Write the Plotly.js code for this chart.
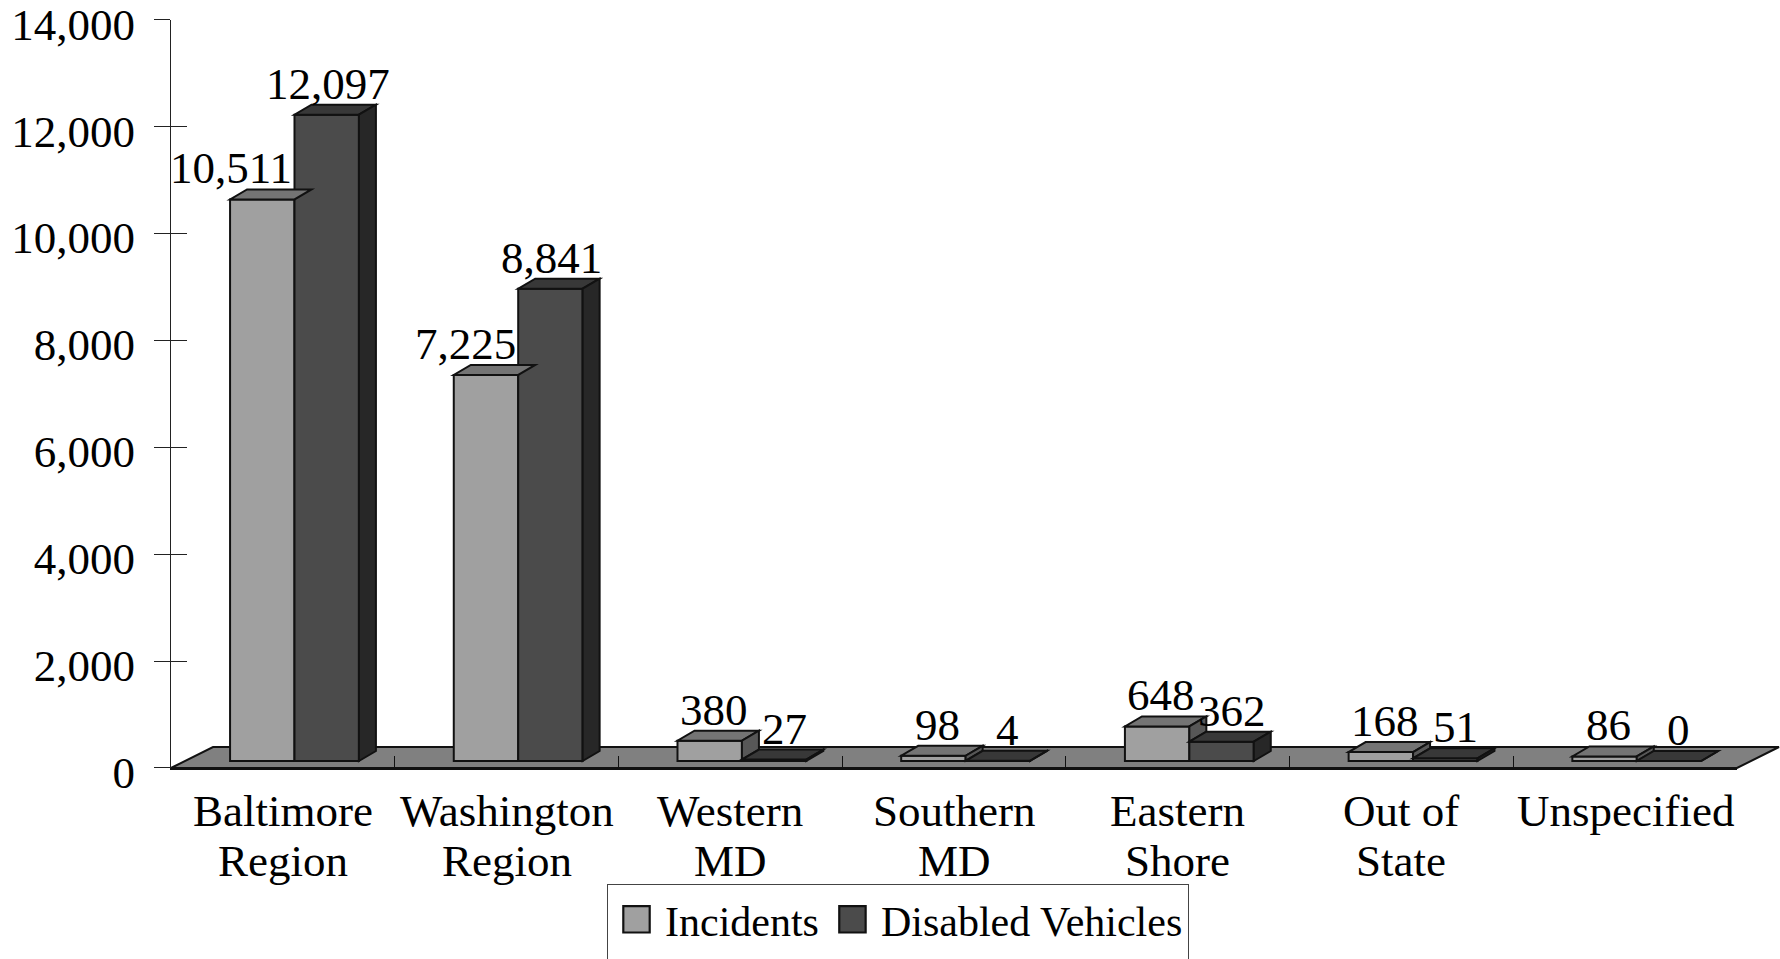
<!DOCTYPE html>
<html>
<head>
<meta charset="utf-8">
<script src="https://cdn.plot.ly/plotly-3.0.1.min.js"></script>
<style>html,body{margin:0;padding:0;background:#fff;}#chart{width:1780px;height:959px;}</style>
</head>
<body>
<div id="chart"></div>
<script>
// ---- data ----
const categories = ['Baltimore Region','Washington Region','Western MD','Southern MD','Eastern Shore','Out of State','Unspecified'];
const tickLabels = [['Baltimore','Region'],['Washington','Region'],['Western','MD'],['Southern','MD'],['Eastern','Shore'],['Out of','State'],['Unspecified']];
const seriesNames = ['Incidents','Disabled Vehicles'];
const incidents = [10511, 7225, 380, 98, 648, 168, 86];
const disabled = [12097, 8841, 27, 4, 362, 51, 0];
const yMax = 14000;
const yStep = 2000;

// ---- layout geometry ----
const W = 1780, H = 959;
const PL = 171, PR = 1737;          // plot left / right (front floor edge)
const Y0 = 768.5, YTOP = 20.4;      // pixel of 0 and yMax on the tick axis
const SHIFT = 7;                    // bars sit a little behind the front edge
const pxPerVal = (Y0 - YTOP) / yMax;
const pxPerCat = (PR - PL) / categories.length;
const y2Min = -40;
const y2Zero = Y0 - SHIFT;
const y2Bottom = y2Zero - y2Min * pxPerVal;
const plotTop = YTOP - SHIFT;
const ph = Y0 - plotTop;
const DX = 17, DY = 10;             // 3D depth of bars in px
const ddx = DX / pxPerCat, ddy = DY / pxPerVal;
const BW = 0.288, OFF_A = -0.236, OFF_B = 0.052;

const FONT = '"Liberation Serif", "Times New Roman", serif';
const FS = 45;
const colA = {front:'#a0a0a0', top:'#747474', side:'#575757'};
const colB = {front:'#4b4b4b', top:'#383838', side:'#272727'};
const edge = '#111111';

const traces = [
  {type:'bar', name:seriesNames[0], x:categories, y:incidents, yaxis:'y2',
   offset:OFF_A, width:BW, marker:{color:colA.front, line:{color:edge, width:2}}},
  {type:'bar', name:seriesNames[1], x:categories, y:disabled, yaxis:'y2',
   offset:OFF_B, width:BW, marker:{color:colB.front, line:{color:edge, width:2}}},
  // invisible helpers so that the tick axes are drawn
  {type:'scatter', x:categories, y:incidents, yaxis:'y', mode:'markers', marker:{opacity:0},
   showlegend:false, hoverinfo:'skip'},
  {type:'scatter', x:categories, y:incidents, yaxis:'y3', mode:'markers', marker:{opacity:0},
   showlegend:false, hoverinfo:'skip'}
];

function poly(pts){ return 'M' + pts.map(p => p[0] + ',' + p[1]).join('L') + 'Z'; }
const shapes = [];
const FDX = 42, FDY = 21;
function px2paperX(px){ return (px - PL) / (PR - PL); }
function px2paperY(py){ return (Y0 - py) / ph; }
shapes.push({type:'path', xref:'paper', yref:'paper', layer:'below',
  path: poly([[px2paperX(PL), px2paperY(Y0)], [px2paperX(PR), px2paperY(Y0)],
              [px2paperX(PR+FDX), px2paperY(Y0-FDY)], [px2paperX(PL+FDX), px2paperY(Y0-FDY)]]),
  fillcolor:'#808080', line:{color:edge, width:2}});

categories.forEach((c, i) => {
  const a = incidents[i], b = disabled[i];
  const axl = i + OFF_A, axr = axl + BW;
  const bxl = i + OFF_B, bxr = bxl + BW;
  shapes.push({type:'path', xref:'x', yref:'y2', fillcolor:colA.top, line:{color:edge, width:2},
    path: poly([[axl, a], [axr, a], [axr+ddx, a+ddy], [axl+ddx, a+ddy]])});
  if (a > b) {
    shapes.push({type:'path', xref:'x', yref:'y2', fillcolor:colA.side, line:{color:edge, width:2},
      path: poly([[axr, b], [axr+ddx, b+ddy], [axr+ddx, a+ddy], [axr, a]])});
  }
  shapes.push({type:'path', xref:'x', yref:'y2', fillcolor:colB.top, line:{color:edge, width:2},
    path: poly([[bxl, b], [bxr, b], [bxr+ddx, b+ddy], [bxl+ddx, b+ddy]])});
  shapes.push({type:'path', xref:'x', yref:'y2', fillcolor:colB.side, line:{color:edge, width:2},
    path: poly([[bxr, 0], [bxr+ddx, ddy], [bxr+ddx, b+ddy], [bxr, b]])});
});

const fmt = v => v.toLocaleString('en-US');
const annotations = [];
categories.forEach((c, i) => {
  const a = incidents[i], b = disabled[i];
  const la = fmt(a), lb = fmt(b);
  const estW = la.replace(',', '').length * 0.5 * FS + (la.includes(',') ? 0.25 * FS : 0);
  const crowded = b > a && estW > BW * pxPerCat;
  annotations.push({xref:'x', yref:'y2', x: crowded ? i + OFF_A + BW : i + OFF_A + BW/2, y:a,
    xanchor: crowded ? 'right' : 'center', yanchor:'bottom', yshift:4, xshift: crowded ? 0 : 4,
    text:la, showarrow:false, font:{family:FONT, size:FS, color:'#000'}});
  annotations.push({xref:'x', yref:'y2', x:i + OFF_B + BW/2, y:b, xanchor:'center', yanchor:'bottom',
    yshift:4, xshift: b > a ? 1 : 10, text:lb, showarrow:false, font:{family:FONT, size:FS, color:'#000'}});
});
// category labels (two tight lines, like the reference)
const CAT_TOP = 785, CAT_LINE = 50;
tickLabels.forEach((lines, i) => {
  lines.forEach((t, k) => {
    annotations.push({xref:'x', yref:'paper', x:i, y:px2paperY(CAT_TOP + k*CAT_LINE),
      xanchor:'center', yanchor:'top', text:t, showarrow:false,
      font:{family:FONT, size:FS, color:'#000'}});
  });
});

const layout = {
  width:W, height:H,
  margin:{l:PL, r:W-PR, t:plotTop, b:H-Y0, pad:0, autoexpand:false},
  paper_bgcolor:'#fff', plot_bgcolor:'rgba(0,0,0,0)',
  font:{family:FONT, size:FS, color:'#000'},
  showlegend:true,
  barmode:'overlay',
  hovermode:false,
  xaxis:{type:'category', categoryorder:'array', categoryarray:categories,
    range:[-0.5, categories.length-0.5], showticklabels:false,
    tickson:'boundaries', ticks:'inside', ticklen:12, tickwidth:1, tickcolor:edge,
    showline:true, linecolor:edge, linewidth:2, showgrid:false, zeroline:false, fixedrange:true},
  yaxis:{domain:[0, (Y0-YTOP)/ph], range:[0, yMax], dtick:yStep, tick0:0, tickformat:',d',
    ticks:'outside', ticklen:16, tickwidth:1, tickcolor:'#222',
    showline:true, linecolor:'#222', linewidth:1, showgrid:false, zeroline:false,
    ticklabelstandoff:10, ticklabelshift:4, ticklabeloverflow:'allow',
    tickfont:{family:FONT, size:FS, color:'#000'}, fixedrange:true},
  yaxis3:{overlaying:'y', side:'left', range:[0, yMax], dtick:yStep, tick0:0,
    ticks:'inside', ticklen:16, tickwidth:1, tickcolor:'#222', showticklabels:false,
    showline:false, showgrid:false, zeroline:false, fixedrange:true},
  yaxis2:{domain:[(Y0-y2Bottom)/ph, 1], range:[y2Min, yMax], anchor:'x', visible:false,
    showgrid:false, zeroline:false, fixedrange:true},
  legend:{orientation:'h', x:px2paperX(607), y:px2paperY(885), xanchor:'left', yanchor:'top',
    bordercolor:'#444', borderwidth:1, bgcolor:'#fff', font:{family:FONT, size:42, color:'#000'},
    itemwidth:47, traceorder:'normal'},
  shapes:shapes,
  annotations:annotations
};

Plotly.newPlot('chart', traces, layout, {displayModeBar:false, staticPlot:true}).then(gd => {
  // enlarge the legend swatches to match the reference
  gd.querySelectorAll('.legend .legendpoints path').forEach(p => {
    const t = p.getAttribute('transform') || '';
    p.setAttribute('transform', t + ' scale(2.2)');
    p.style.strokeWidth = '1px';
  });
  // the reference legend box runs past the bottom edge of the picture
  const bg = gd.querySelector('.legend rect.bg');
  if (bg) bg.setAttribute('height', 200);
});
</script>
</body>
</html>
